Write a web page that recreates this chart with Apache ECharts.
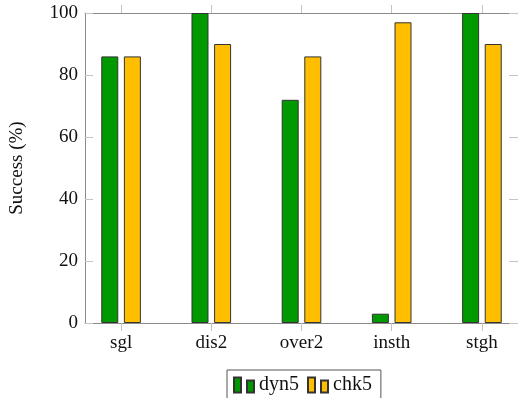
<!DOCTYPE html>
<html>
<head>
<meta charset="utf-8">
<script src="https://cdn.jsdelivr.net/npm/echarts@6/dist/echarts.min.js"></script>
<style>
  html, body { margin: 0; padding: 0; background: #fff; }
  #chart { width: 518px; height: 398px; }
</style>
</head>
<body>
<div id="chart"></div>
<script>
// Success rate per scenario for the two strategies
const categories = ['sgl', 'dis2', 'over2', 'insth', 'stgh'];
const dyn5 = [86, 100, 72, 3, 100];
const chk5 = [86, 90, 86, 97, 90];
const yTicks = [0, 20, 40, 60, 80, 100];

const FONT = '"Liberation Serif", "DejaVu Serif", serif';
const catIdx = categories.map((_, i) => i);
const toPoints = arr => arr.map((v, i) => [i, v]);

const axisLineStyle = { color: '#8a8a8a', width: 1 };
const tickStyle = { color: '#c4c4c4', width: 1 };

const chart = echarts.init(document.getElementById('chart'), null, { renderer: 'canvas' });
chart.setOption({
  animation: false,
  grid: { left: 83, top: 13, right: -7, bottom: 75, containLabel: false },
  xAxis: [
    {
      type: 'value', position: 'bottom', min: -0.4, max: 4.4,
      axisLine: { show: true, onZero: false, lineStyle: axisLineStyle },
      axisTick: { show: true, inside: false, length: 8, customValues: catIdx, lineStyle: tickStyle },
      axisLabel: {
        customValues: catIdx,
        formatter: v => categories[Math.round(v)],
        fontFamily: FONT, fontSize: 19, color: '#111', margin: 11
      },
      splitLine: { show: false }
    },
    {
      type: 'value', position: 'top', min: -0.4, max: 4.4,
      axisLine: { show: true, onZero: false, lineStyle: axisLineStyle },
      axisTick: { show: true, inside: false, length: 8, customValues: catIdx, lineStyle: tickStyle },
      axisLabel: { show: false },
      splitLine: { show: false }
    }
  ],
  yAxis: [
    {
      type: 'value', position: 'left', min: 0, max: 100, interval: 20,
      name: 'Success (%)', nameLocation: 'middle', nameGap: 58,
      nameTextStyle: { fontFamily: FONT, fontSize: 19, color: '#111' },
      axisLine: { show: true, onZero: false, lineStyle: axisLineStyle },
      axisTick: { show: true, inside: true, length: 8, customValues: yTicks, lineStyle: tickStyle },
      axisLabel: { fontFamily: FONT, fontSize: 19, color: '#111', margin: 7 },
      splitLine: { show: false }
    },
    {
      type: 'value', position: 'right', min: 0, max: 100, interval: 20,
      axisLine: { show: true, onZero: false, lineStyle: axisLineStyle },
      axisTick: { show: true, inside: true, length: 9, lineStyle: tickStyle },
      axisLabel: { show: false },
      splitLine: { show: false }
    }
  ],
  legend: {
    left: 227, top: 370,
    padding: [5, 9, 5, 6],
    itemGap: 8,
    itemWidth: 20, itemHeight: 15,
    borderColor: '#555', borderWidth: 1,
    textStyle: { fontFamily: FONT, fontSize: 20, color: '#111', padding: [0, 0, 0, 0] },
    data: [
      { name: 'dyn5', icon: 'path://M0,0h7v15h-7z M13,3h7v12h-7z' },
      { name: 'chk5', icon: 'path://M0,0h7v15h-7z M13,3h7v12h-7z' }
    ]
  },
  series: [
    {
      name: 'dyn5', type: 'bar', xAxisIndex: 0, yAxisIndex: 0,
      data: toPoints(dyn5),
      barWidth: 17, barGap: '33%',
      itemStyle: { color: '#009900', borderColor: '#333', borderWidth: 1 }
    },
    {
      name: 'chk5', type: 'bar', xAxisIndex: 0, yAxisIndex: 0,
      data: toPoints(chk5),
      barWidth: 17, barGap: '33%',
      itemStyle: { color: '#ffbf00', borderColor: '#333', borderWidth: 1 }
    }
  ]
});
</script>
</body>
</html>
